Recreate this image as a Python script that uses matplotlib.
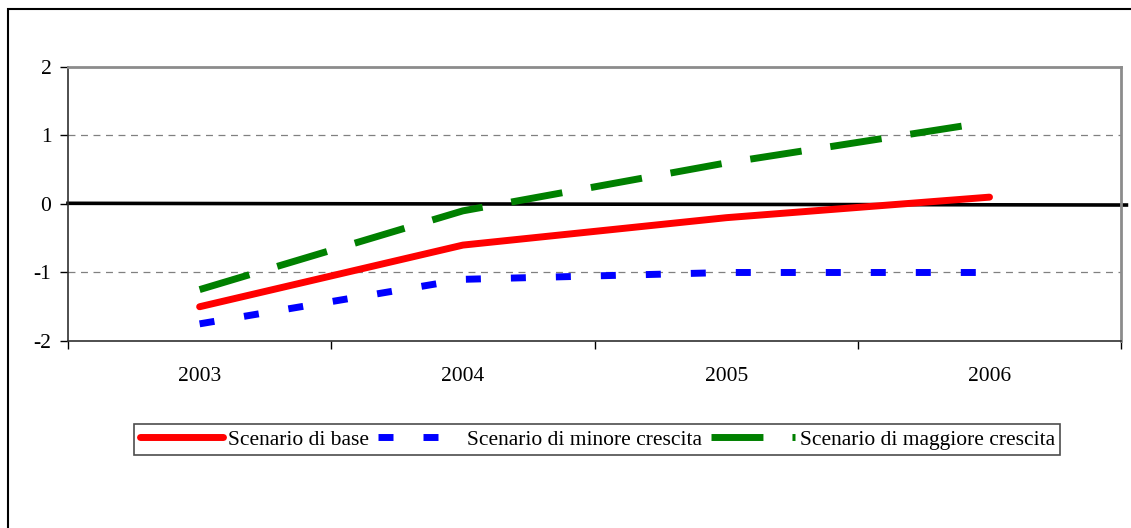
import matplotlib.pyplot as plt
from matplotlib.patches import Rectangle

plt.rcParams['font.family'] = ['Liberation Serif', 'DejaVu Serif']
plt.rcParams['lines.scale_dashes'] = False

years = ['2003', '2004', '2005', '2006']
base = [-1.5, -0.6, -0.2, 0.1]
minore = [-1.75, -1.1, -1.0, -1.0]
maggiore = [-1.25, -0.1, 0.6, 1.2]

fig = plt.figure(figsize=(11.31, 5.28), dpi=100)
ax = fig.add_axes([0.0601, 0.3542, 0.9312, 0.5189])

x = list(range(len(years)))

# horizontal reference line at zero
ax.plot([-0.5, 3.52], [0.01, -0.015], color='black', lw=2.6, zorder=2, clip_on=False)

ax.plot(x, base, color='#ff0000', lw=5, solid_capstyle='round', label='Scenario di base', zorder=3)
ax.plot(x, minore, color='#0000ff', lw=5, dashes=(10.8, 21.6), dash_capstyle='butt',
        label='Scenario di minore crescita', zorder=3)
ax.plot(x, maggiore, color='#008000', lw=5, dashes=(37.4, 20.9), dash_capstyle='butt',
        label='Scenario di maggiore crescita', zorder=3)

ax.set_xlim(-0.5, 3.5)
ax.set_ylim(-2, 2)
ax.set_yticks([-2, -1, 0, 1, 2])
ax.set_yticklabels(['-2', '-1', '0', '1', '2'])
ax.set_xticks(x)
ax.set_xticklabels(years)
ax.set_xticks([-0.5, 0.5, 1.5, 2.5, 3.5], minor=True)
ax.tick_params(axis='x', which='major', length=0, pad=19, labelsize=15.5)
ax.tick_params(axis='x', which='minor', length=6, width=1, color='black')
ax.tick_params(axis='y', length=6, width=1, pad=6, labelsize=15.5)

for yv in [-1, 1]:
    ax.axhline(yv, color='#808080', lw=0.9, dashes=(5, 4), zorder=1)

ax.spines['left'].set_color('#303030')
ax.spines['bottom'].set_color('#303030')
ax.spines['left'].set_linewidth(1.2)
ax.spines['bottom'].set_linewidth(1.2)
ax.spines['top'].set_color('#8c8c8c')
ax.spines['right'].set_color('#8c8c8c')
ax.spines['top'].set_linewidth(2)
ax.spines['right'].set_linewidth(2)

leg = fig.legend(loc='center', bbox_to_anchor=(0.528, 0.167), ncol=3, fontsize=15.5,
                 frameon=True, fancybox=False, handlelength=3.9, handletextpad=0.2,
                 columnspacing=0.45, borderpad=0.25, borderaxespad=0)
leg.get_frame().set_edgecolor('#202020')
leg.get_frame().set_linewidth(1.2)

# outer frame of the chart
fig.patches.append(Rectangle((8 / 1131, -0.05), 1.2, 0.983 + 0.05, transform=fig.transFigure,
                             fill=False, edgecolor='black', lw=1.5))

fig.savefig('out.png', dpi=100)
